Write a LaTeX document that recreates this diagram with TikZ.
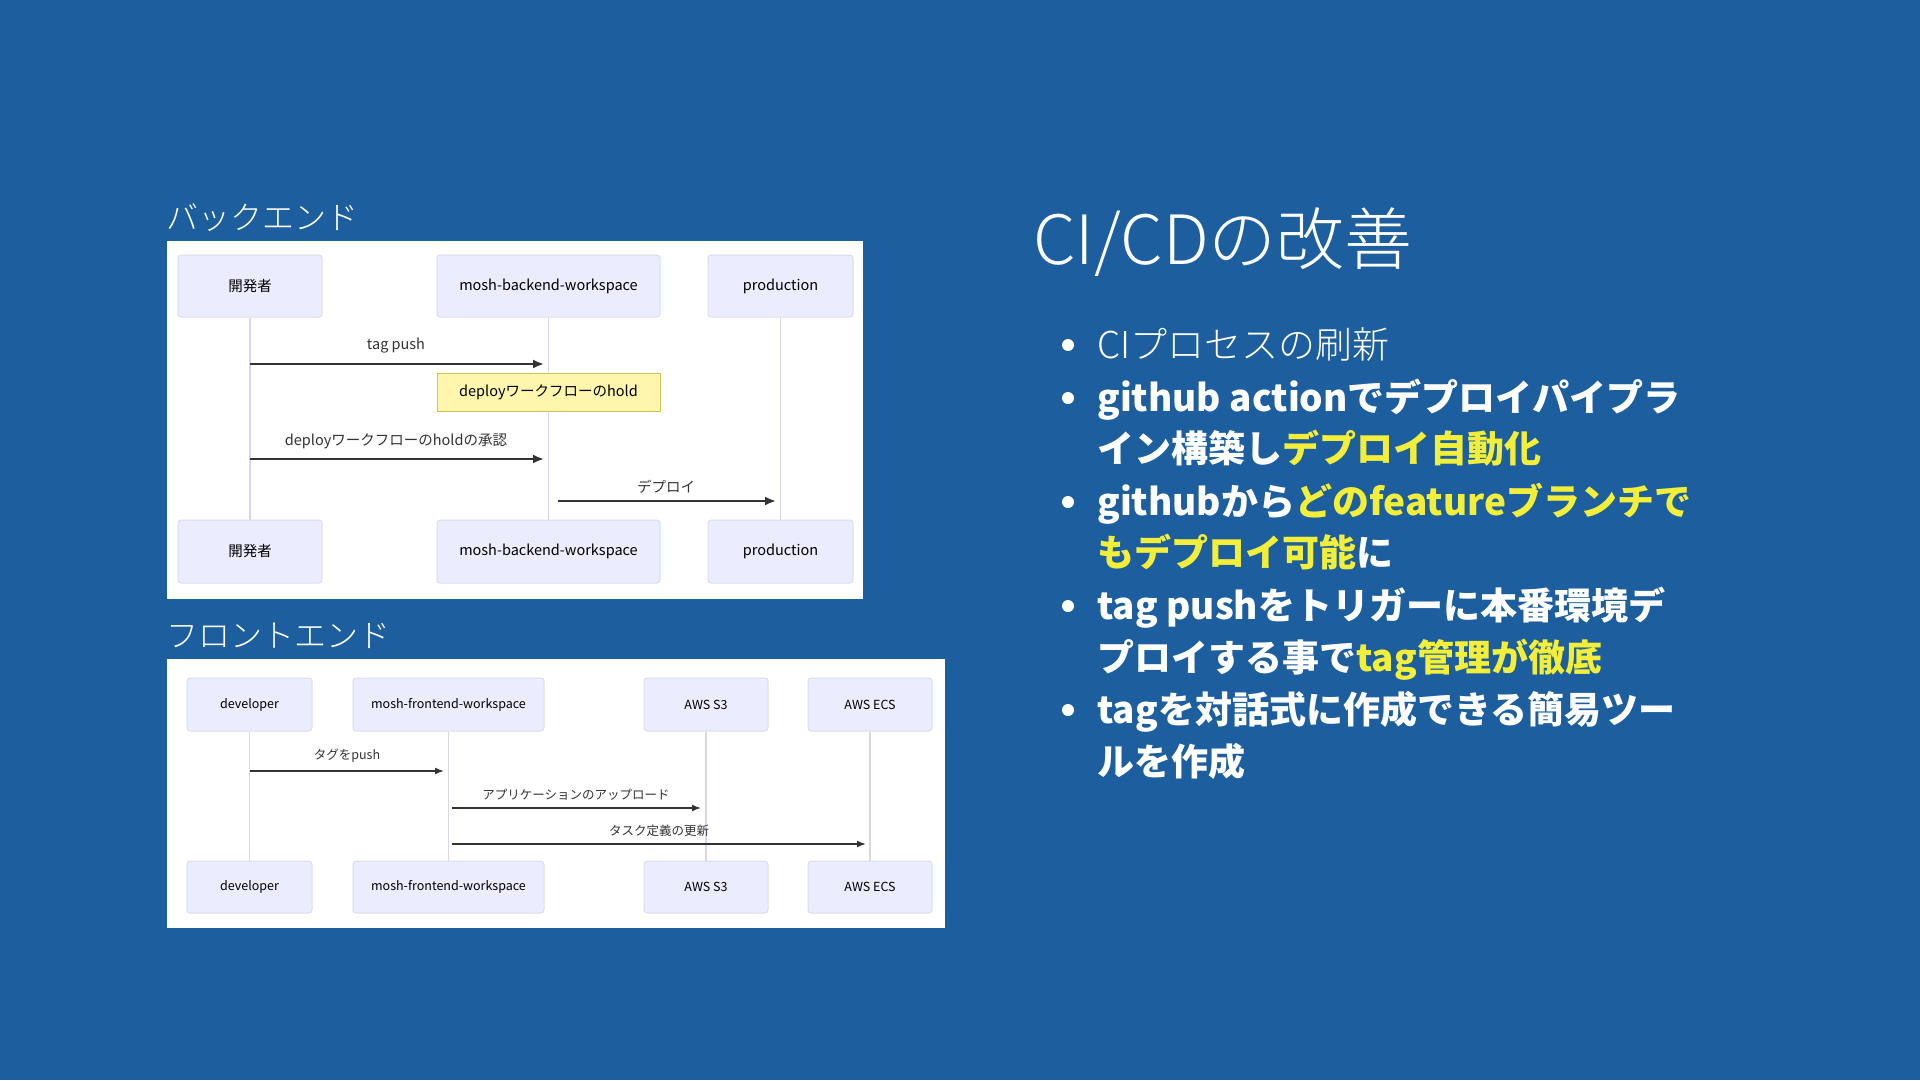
\documentclass[tikz,border=0pt]{standalone}
\usepackage{fontspec}
\setmainfont{Noto Sans CJK JP}
\newfontfamily\lightfont{Noto Sans CJK JP Light}
\usetikzlibrary{arrows.meta}
\definecolor{bg}{HTML}{1C5E9E}
\definecolor{actorfill}{HTML}{ECECFF}
\definecolor{actorline}{HTML}{DCDCF0}
\definecolor{lifecol}{HTML}{D6D6EE}
\definecolor{notefill}{HTML}{FFF5AD}
\definecolor{noteline}{HTML}{C8C850}
\definecolor{msgcol}{HTML}{333333}
\definecolor{hl}{HTML}{F2EE3A}
\tikzset{
  panel/.style={fill=white, draw=none, inner sep=0},
  paneltitle/.style={text=white, inner sep=0, anchor=west, font=\lightfont\fontsize{32}{34}\selectfont},
  actorA/.style={fill=actorfill, draw=actorline, line width=1pt, rounded corners=3pt, inner sep=0, text=black, font=\fontsize{14.5}{17}\selectfont},
  actorB/.style={fill=actorfill, draw=actorline, line width=1pt, rounded corners=3pt, inner sep=0, text=black, font=\fontsize{12.5}{15}\selectfont},
  lifeline/.style={draw=lifecol, line width=1.5pt},
  notebox/.style={fill=notefill, draw=noteline, line width=1pt, inner sep=0, text=black, font=\fontsize{14.5}{17}\selectfont},
  msgA/.style={draw=msgcol, line width=2pt, -{Latex[length=11pt,width=9pt]}},
  msgB/.style={draw=msgcol, line width=1.6pt, -{Latex[length=9pt,width=7pt]}},
  lblA/.style={text=msgcol, inner sep=0, font=\fontsize{14.5}{17}\selectfont},
  lblB/.style={text=msgcol, inner sep=0, font=\fontsize{12.5}{15}\selectfont},
  bline/.style={text=white, inner sep=0, anchor=base west, font=\fontsize{37}{40}\selectfont\bfseries},
  bdot/.style={fill=white, draw=none, circle, inner sep=0, minimum size=12pt}
}
\begin{document}
\begin{tikzpicture}[x=1pt,y=-1pt]
\useasboundingbox (0,0) rectangle (1920,1080);
\fill[bg] (0,0) rectangle (1920,1080);

% ---------------- Backend ----------------
\node[paneltitle] (bt) at (166,218) {バックエンド};
\node[panel, minimum width=696pt, minimum height=358pt] (bp) at (515,420) {};

\node[actorA, minimum width=144pt, minimum height=62pt] (b1) at (250,286) {開発者};
\node[actorA, minimum width=223pt, minimum height=62pt] (b2) at (548.5,286) {mosh-backend-workspace};
\node[actorA, minimum width=145pt, minimum height=62pt] (b3) at (780.5,286) {production};
\node[actorA, minimum width=144pt, minimum height=63pt] (b1b) at (250,551.5) {開発者};
\node[actorA, minimum width=223pt, minimum height=63pt] (b2b) at (548.5,551.5) {mosh-backend-workspace};
\node[actorA, minimum width=145pt, minimum height=63pt] (b3b) at (780.5,551.5) {production};

\draw[lifeline] (b1.south) -- (b1b.north);
\draw[lifeline] (b2.south) -- (b2b.north);
\draw[lifeline] (b3.south) -- (b3b.north);

\node[notebox, minimum width=223pt, minimum height=38pt] (note) at (548.5,392) {deployワークフローのhold};

\coordinate (m1s) at (250,364);
\coordinate (m1e) at (544,364);
\draw[msgA] (m1s) -- (m1e);
\node[lblA] (l1) at (396,346) {tag push};

\coordinate (m2s) at (250,459);
\coordinate (m2e) at (544,459);
\draw[msgA] (m2s) -- (m2e);
\node[lblA] (l2) at (396,441) {deployワークフローのholdの承認};

\coordinate (m3s) at (558,501);
\coordinate (m3e) at (776,501);
\draw[msgA] (m3s) -- (m3e);
\node[lblA] (l3) at (666,487) {デプロイ};

% ---------------- Frontend ----------------
\node[paneltitle] (ft) at (166,636) {フロントエンド};
\node[panel, minimum width=778pt, minimum height=269pt] (fp) at (556,793.5) {};

\node[actorB, minimum width=125pt, minimum height=53pt] (f1) at (249.5,704.5) {developer};
\node[actorB, minimum width=191pt, minimum height=53pt] (f2) at (448.5,704.5) {mosh-frontend-workspace};
\node[actorB, minimum width=124pt, minimum height=53pt] (f3) at (706,704.5) {AWS S3};
\node[actorB, minimum width=124pt, minimum height=53pt] (f4) at (870,704.5) {AWS ECS};
\node[actorB, minimum width=125pt, minimum height=52pt] (f1b) at (249.5,887) {developer};
\node[actorB, minimum width=191pt, minimum height=52pt] (f2b) at (448.5,887) {mosh-frontend-workspace};
\node[actorB, minimum width=124pt, minimum height=52pt] (f3b) at (706,887) {AWS S3};
\node[actorB, minimum width=124pt, minimum height=52pt] (f4b) at (870,887) {AWS ECS};

\draw[lifeline] (f1.south) -- (f1b.north);
\draw[lifeline] (f2.south) -- (f2b.north);
\draw[lifeline] (f3.south) -- (f3b.north);
\draw[lifeline] (f4.south) -- (f4b.north);

\coordinate (n1s) at (250,771);
\coordinate (n1e) at (444,771);
\draw[msgB] (n1s) -- (n1e);
\node[lblB] (k1) at (347,756) {タグをpush};

\coordinate (n2s) at (452,808);
\coordinate (n2e) at (701,808);
\draw[msgB] (n2s) -- (n2e);
\node[lblB] (k2) at (576,795) {アプリケーションのアップロード};

\coordinate (n3s) at (452,844);
\coordinate (n3e) at (866,844);
\draw[msgB] (n3s) -- (n3e);
\node[lblB] (k3) at (659,831) {タスク定義の更新};

% ---------------- Right text ----------------
\node[text=white, inner sep=0, anchor=west, font=\lightfont\fontsize{68}{72}\selectfont] (title) at (1033,242) {CI/CDの改善};

\node[bdot] (d1) at (1068,345) {};
\node[bdot] (d2) at (1068,398) {};
\node[bdot] (d3) at (1068,502) {};
\node[bdot] (d4) at (1068,606) {};
\node[bdot] (d5) at (1068,710) {};

\node[bline, font=\lightfont\fontsize{37}{40}\selectfont] (t1) at (1097,358) {CIプロセスの刷新};
\node[bline] (t2) at (1097,411) {github actionでデプロイパイプラ};
\node[bline] (t3) at (1097,462) {イン構築し\textcolor{hl}{デプロイ自動化}};
\node[bline] (t4) at (1097,515) {githubから\textcolor{hl}{どのfeatureブランチで}};
\node[bline] (t5) at (1097,566) {\textcolor{hl}{もデプロイ可能}に};
\node[bline] (t6) at (1097,619) {tag pushをトリガーに本番環境デ};
\node[bline] (t7) at (1097,671) {プロイする事で\textcolor{hl}{tag管理が徹底}};
\node[bline] (t8) at (1097,723) {tagを対話式に作成できる簡易ツー};
\node[bline] (t9) at (1097,775) {ルを作成};
\end{tikzpicture}
\end{document}
